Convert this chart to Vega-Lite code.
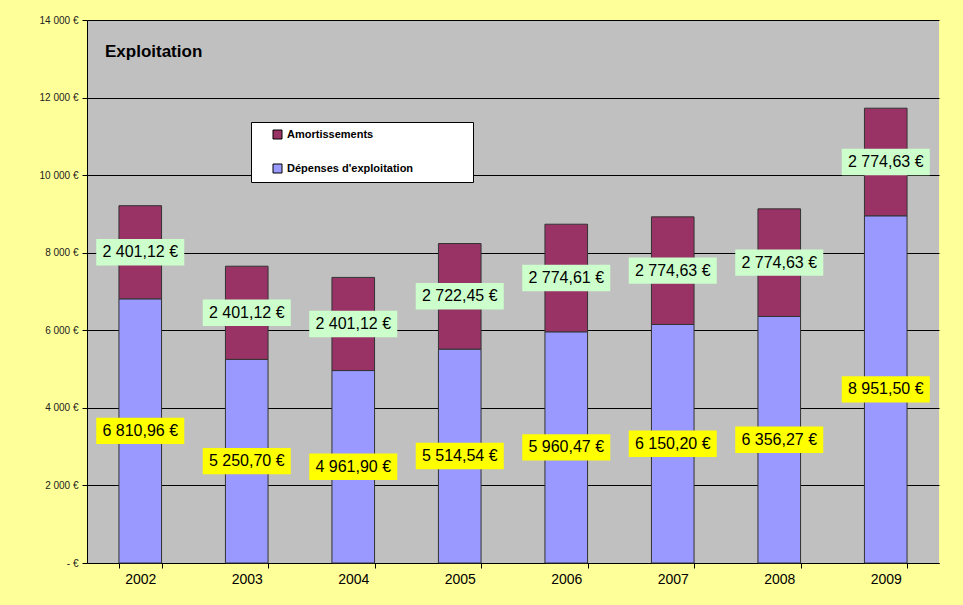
{
  "$schema": "https://vega.github.io/schema/vega-lite/v6.json",
  "width": 852,
  "height": 543,
  "autosize": "none",
  "padding": {"left": 87, "top": 20, "right": 24, "bottom": 42},
  "background": "#FFFF99",
  "config": {
    "font": "Liberation Sans",
    "view": {"fill": "#C0C0C0", "stroke": null},
    "locale": {"number": {"decimal": ",", "thousands": " ", "grouping": [3], "currency": ["", " €"]}}
  },
  "title": {
    "text": "Exploitation",
    "anchor": "start",
    "frame": "group",
    "offset": -46,
    "dx": 18,
    "fontSize": 17,
    "fontWeight": "bold",
    "color": "#000000"
  },
  "data": {
    "values": [
      {"annee": "2002", "serie": "Dépenses d'exploitation", "valeur": 6810.96},
      {"annee": "2002", "serie": "Amortissements", "valeur": 2401.12},
      {"annee": "2003", "serie": "Dépenses d'exploitation", "valeur": 5250.70},
      {"annee": "2003", "serie": "Amortissements", "valeur": 2401.12},
      {"annee": "2004", "serie": "Dépenses d'exploitation", "valeur": 4961.90},
      {"annee": "2004", "serie": "Amortissements", "valeur": 2401.12},
      {"annee": "2005", "serie": "Dépenses d'exploitation", "valeur": 5514.54},
      {"annee": "2005", "serie": "Amortissements", "valeur": 2722.45},
      {"annee": "2006", "serie": "Dépenses d'exploitation", "valeur": 5960.47},
      {"annee": "2006", "serie": "Amortissements", "valeur": 2774.61},
      {"annee": "2007", "serie": "Dépenses d'exploitation", "valeur": 6150.20},
      {"annee": "2007", "serie": "Amortissements", "valeur": 2774.63},
      {"annee": "2008", "serie": "Dépenses d'exploitation", "valeur": 6356.27},
      {"annee": "2008", "serie": "Amortissements", "valeur": 2774.63},
      {"annee": "2009", "serie": "Dépenses d'exploitation", "valeur": 8951.50},
      {"annee": "2009", "serie": "Amortissements", "valeur": 2774.63}
    ]
  },
  "transform": [
    {"stack": "valeur", "groupby": ["annee"], "sort": [{"field": "serie", "order": "descending"}], "as": ["y0", "y1"]},
    {"calculate": "(datum.y0 + datum.y1) / 2", "as": "ymid"}
  ],
  "encoding": {
    "x": {
      "field": "annee",
      "type": "nominal",
      "scale": {"paddingInner": 0.6, "paddingOuter": 0.3},
      "axis": {
        "title": null,
        "labelAngle": 0,
        "labelFontSize": 14,
        "labelColor": "#000000",
        "tickBand": "extent",
        "tickColor": "#000000",
        "tickSize": 5,
        "domainColor": "#000000",
        "labelPadding": 4,
        "grid": false
      }
    }
  },
  "layer": [
    {
      "mark": {"type": "bar", "stroke": "#333333", "strokeWidth": 1},
      "encoding": {
        "y": {
          "field": "y0",
          "type": "quantitative",
          "scale": {"domain": [0, 14000]},
          "axis": {
            "title": null,
            "values": [0, 2000, 4000, 6000, 8000, 10000, 12000, 14000],
            "format": ",.0f",
            "labelExpr": "datum.value == 0 ? '- €' : datum.label + ' €'",
            "labelFontSize": 10,
            "labelColor": "#222222",
            "tickColor": "#000000",
            "tickSize": 5,
            "domainColor": "#000000",
            "gridColor": "#000000",
            "gridOpacity": 1,
            "labelPadding": 4
          }
        },
        "y2": {"field": "y1"},
        "color": {
          "field": "serie",
          "type": "nominal",
          "scale": {"domain": ["Amortissements", "Dépenses d'exploitation"], "range": ["#993366", "#9999FF"]},
          "legend": {
            "orient": "none",
            "legendX": 164,
            "legendY": 102,
            "title": null,
            "fillColor": "#FFFFFF",
            "strokeColor": "#000000",
            "padding": 7,
            "symbolType": "square",
            "symbolSize": 81,
            "symbolStrokeColor": "#000000",
            "symbolStrokeWidth": 1,
            "symbolOffset": 14,
            "labelFontSize": 11,
            "labelFontWeight": "bold",
            "labelColor": "#000000",
            "labelLimit": 400,
            "rowPadding": 21,
            "labelExpr": "datum.label + '\u2003\u2003\u2003\u2003\u2800'"
          }
        }
      }
    },
    {
      "mark": {"type": "point", "shape": "M-1,-0.3H1V0.3H-1Z", "filled": true, "opacity": 1, "strokeWidth": 0, "size": 7744},
      "encoding": {
        "y": {"field": "ymid", "type": "quantitative"},
        "color": {"condition": {"test": "datum.serie === 'Amortissements'", "value": "#CCFFCC"}, "value": "#FFFF00"}
      }
    },
    {
      "mark": {"type": "text", "fontSize": 16, "color": "#000000"},
      "encoding": {
        "y": {"field": "ymid", "type": "quantitative"},
        "text": {"field": "valeur", "type": "quantitative", "format": "$,.2f"}
      }
    }
  ]
}
